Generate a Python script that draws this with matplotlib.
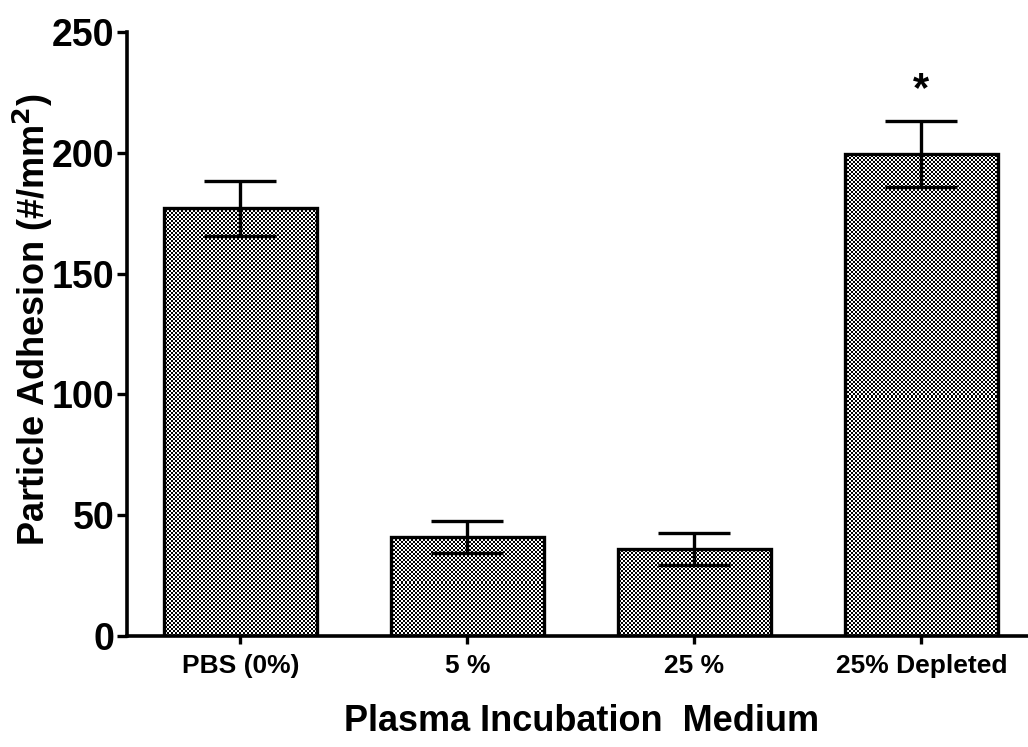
import matplotlib.pyplot as plt
import numpy as np

plt.rcParams["font.family"] = ["Liberation Sans", "DejaVu Sans"]
plt.rcParams["font.weight"] = "bold"

# Data
groups = ["PBS (0%)", "5 %", "25 %", "25% Depleted"]
adhesion = [177, 41, 36, 199.5]
sem = [11.5, 6.5, 6.8, 13.5]
star_y = 226

fig = plt.figure(figsize=(10.28, 7.47), dpi=100)
ax = fig.add_axes([0.1235, 0.1486, 0.8765, 0.8086])

x = np.arange(len(groups))
bars = ax.bar(x, adhesion, width=0.674, color="none", edgecolor="black",
              linewidth=2.4, zorder=3)

# checkerboard fill (2 px squares), clipped to each bar
ax.set_xlim(-0.5, 3.47)
ax.set_ylim(0, 250)
ny, nx = 604, 901
ii, jj = np.meshgrid(np.arange(ny) // 2, np.arange(nx) // 2, indexing="ij")
checker = ((ii + jj) % 2).astype(float)
for b in bars:
    im = ax.imshow(checker, cmap="gray", vmin=0, vmax=1, aspect="auto",
                   extent=(-0.5, 3.47, 0, 250), interpolation="nearest",
                   zorder=2)
    im.set_clip_path(b)

ax.errorbar(x, adhesion, yerr=sem, fmt="none", ecolor="black",
            elinewidth=2.4, capsize=26, capthick=2.4, zorder=4)

ax.text(3, star_y, "*", ha="center", va="center", fontsize=30,
        fontweight="bold")

ax.set_xlim(-0.5, 3.47)
ax.set_ylim(0, 250)
ax.set_yticks([0, 50, 100, 150, 200, 250])
ax.set_xticks(x)
ax.set_xticklabels(groups, fontsize=19, fontweight="bold")
ax.tick_params(axis="y", labelsize=27, width=2.4, length=7, pad=2)
ax.tick_params(axis="x", width=2.4, length=6, pad=7)

for s in ["top", "right"]:
    ax.spines[s].set_visible(False)
for s in ["left", "bottom"]:
    ax.spines[s].set_linewidth(2.6)

ax.set_ylabel("Particle Adhesion (#/mm$^\\mathbf{2}$)", fontsize=26,
              fontweight="bold")
ax.yaxis.set_label_coords(-0.08, 0.523)
ax.set_xlabel("Plasma Incubation  Medium", fontsize=26, fontweight="bold")
ax.xaxis.set_label_coords(0.504, -0.112)

fig.savefig("out.png", dpi=100)
